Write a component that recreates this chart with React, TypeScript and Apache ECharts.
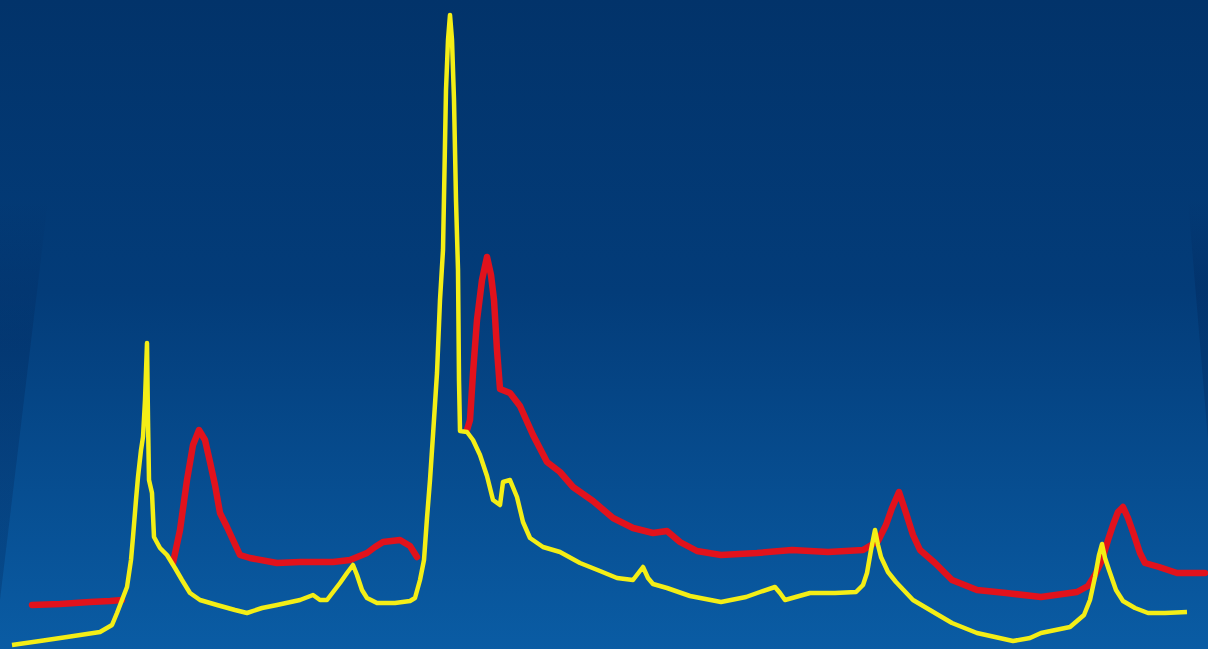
import React, { useEffect, useRef } from "react";
import * as echarts from "echarts";

// Positions along the spectrum (x) and signal heights (y).
const yellowX = [12, 40, 67, 100, 112, 117, 122, 127, 131, 133, 136, 138, 141, 143, 145, 147, 148, 149, 152, 154, 160, 167, 175, 182, 190, 200, 217, 235, 247, 262, 277, 300, 313, 320, 327, 340, 347, 353, 357, 362, 367, 377, 395, 410, 415, 420, 424, 427, 430, 433, 437, 440, 443, 446, 448, 450, 452, 454, 456, 458, 459, 460, 467, 473, 480, 487, 493, 500, 503, 510, 517, 523, 530, 543, 560, 580, 600, 617, 633, 643, 648, 653, 667, 690, 721, 746, 760, 775, 780, 785, 810, 835, 856, 863, 867, 871, 875, 878, 881, 888, 896, 913, 935, 952, 977, 995, 1013, 1030, 1041, 1070, 1084, 1090, 1095, 1099, 1102, 1105, 1109, 1116, 1123, 1135, 1148, 1165, 1187];
const yellowPix = [645, 641, 637, 632, 625, 613, 600, 587, 560, 537, 500, 477, 450, 437, 400, 343, 420, 480, 493, 537, 548, 555, 568, 580, 593, 600, 605, 610, 613, 608, 605, 600, 595, 600, 600, 583, 573, 565, 575, 590, 598, 603, 603, 601, 598, 580, 560, 518, 480, 435, 373, 300, 250, 90, 40, 15, 40, 100, 200, 270, 380, 431, 432, 440, 455, 476, 500, 505, 482, 480, 497, 522, 538, 547, 552, 563, 571, 578, 580, 567, 578, 584, 588, 596, 602, 597, 592, 587, 593, 600, 593, 593, 592, 585, 573, 550, 530, 545, 557, 572, 582, 600, 613, 623, 633, 637, 641, 638, 633, 627, 615, 600, 577, 555, 544, 558, 570, 590, 601, 608, 613, 613, 612];

const redAX = [32, 60, 90, 110, 122];
const redAPix = [605, 604, 602, 601, 600];

const redBX = [173, 180, 187, 193, 199, 205, 210, 215, 220, 227, 233, 240, 250, 277, 300, 333, 350, 367, 375, 383, 400, 410, 417];
const redBPix = [563, 530, 480, 445, 430, 440, 462, 485, 513, 527, 540, 555, 558, 563, 562, 562, 560, 553, 547, 542, 540, 546, 557];

const redCX = [467, 470, 473, 477, 482, 487, 491, 494, 497, 500, 510, 520, 533, 547, 560, 573, 593, 613, 633, 653, 667, 680, 697, 721, 757, 792, 828, 863, 878, 886, 892, 899, 906, 913, 920, 935, 952, 977, 1006, 1041, 1077, 1088, 1095, 1102, 1108, 1113, 1118, 1123, 1128, 1134, 1140, 1145, 1159, 1177, 1205];
const redCPix = [430, 420, 373, 320, 280, 257, 275, 300, 350, 389, 393, 406, 435, 462, 472, 487, 501, 518, 528, 533, 531, 542, 551, 555, 553, 550, 552, 550, 541, 525, 508, 492, 513, 535, 550, 563, 580, 590, 593, 597, 592, 586, 575, 560, 540, 525, 512, 507, 518, 535, 553, 563, 567, 573, 573];

const W = 1208;
const H = 649;

const toPairs = (xs: number[], pix: number[]) => xs.map((x, i) => [x, H - pix[i]]);

const shadeFill = {
  type: "linear",
  x: 0,
  y: 0,
  x2: 0,
  y2: 1,
  colorStops: [
    { offset: 0, color: "rgba(0,25,70,0)" },
    { offset: 0.35, color: "rgba(0,25,70,0.22)" },
    { offset: 1, color: "rgba(0,25,70,0.22)" },
  ],
};

export default function App() {
  const ref = useRef<HTMLDivElement>(null);
  useEffect(() => {
    if (!ref.current) return;
    const chart = echarts.init(ref.current, null, { renderer: "svg" });
    const red = "#E1121C";
    const yellow = "#F4EE16";
    const redLine = (name: string, data: number[][]) => ({
      name,
      type: "line",
      data,
      showSymbol: false,
      symbol: "none",
      lineStyle: { color: red, width: 6.5, join: "round", cap: "round" },
      z: 2,
      clip: false,
    });
    chart.setOption({
      animation: false,
      backgroundColor: {
        type: "linear",
        x: 0,
        y: 0,
        x2: 0,
        y2: 1,
        colorStops: [
          { offset: 0, color: "#02336A" },
          { offset: 0.45, color: "#033C79" },
          { offset: 1, color: "#0A5CA4" },
        ],
      },
      graphic: [
        {
          type: "polygon",
          shape: { points: [[0, 200], [48, 200], [0, 600]] },
          style: { fill: shadeFill },
          silent: true,
          z: -1,
        },
        {
          type: "polygon",
          shape: { points: [[1188, 200], [1208, 200], [1208, 440]] },
          style: { fill: shadeFill },
          silent: true,
          z: -1,
        },
      ],
      grid: { left: 0, right: 0, top: 0, bottom: 0 },
      xAxis: { type: "value", min: 0, max: W, show: false },
      yAxis: { type: "value", min: 0, max: H, show: false },
      series: [
        redLine("redA", toPairs(redAX, redAPix)),
        redLine("redB", toPairs(redBX, redBPix)),
        redLine("redC", toPairs(redCX, redCPix)),
        {
          name: "yellow",
          type: "line",
          data: toPairs(yellowX, yellowPix),
          showSymbol: false,
          symbol: "none",
          lineStyle: { color: yellow, width: 4.5, join: "round" },
          z: 3,
          clip: false,
        },
      ],
    });
    return () => chart.dispose();
  }, []);
  return (
    <div
      ref={ref}
      style={{ position: "fixed", left: 0, top: 0, width: W, height: H }}
    />
  );
}
